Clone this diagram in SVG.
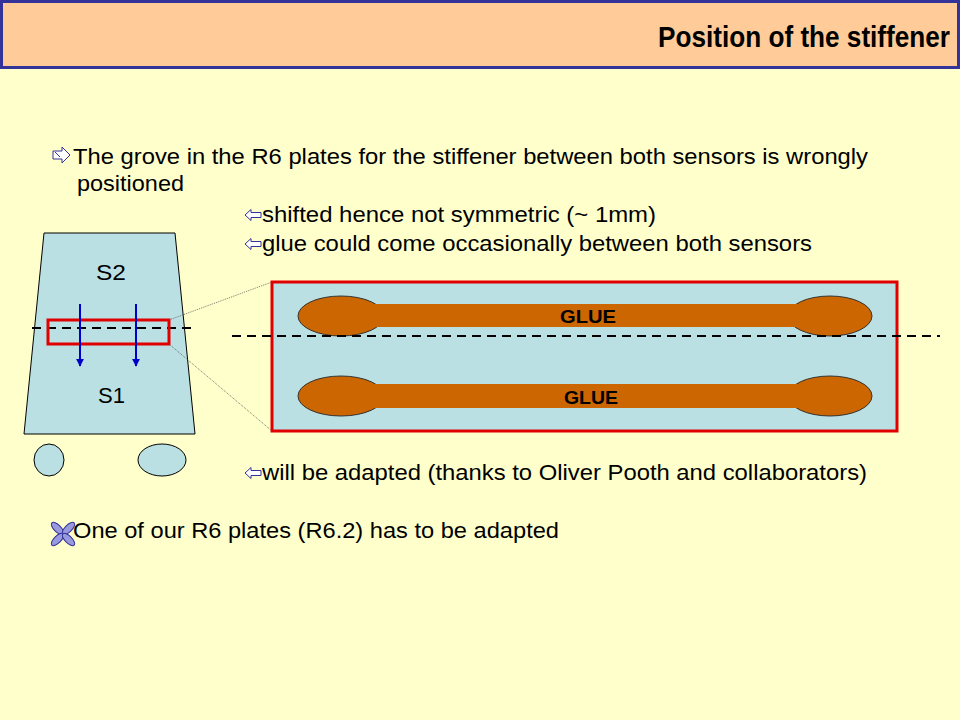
<svg xmlns="http://www.w3.org/2000/svg" width="960" height="720" viewBox="0 0 960 720">
<style>
.t{font-family:"Liberation Sans",Arial,sans-serif;font-size:22px;fill:#000}
.g{font-family:"Liberation Sans",Arial,sans-serif;font-size:19px;font-weight:bold;fill:#000;text-anchor:middle}
.plate{fill:#BBE0E3;stroke:#000;stroke-width:1}
.glue{fill:#CC6600;stroke:#333;stroke-width:1}
.bar{fill:#CC6600}
.dash{stroke:#000;stroke-width:2;stroke-dasharray:9 6;fill:none}
.bul{fill:#fff;stroke:#333399;stroke-width:1}
.blue{stroke:#0000CC;stroke-width:2;fill:none}
.dot{stroke:#555;stroke-width:0.8;stroke-dasharray:1 1;fill:none}
</style>
<defs>
<marker id="ah" viewBox="0 0 10 10" refX="9" refY="5" markerWidth="4" markerHeight="4" orient="auto"><path d="M0,0 L10,5 L0,10 Z" fill="#0000CC"/></marker>
<path id="la" d="M0,0 L6,-5.5 L6,-2.5 L16,-2.5 L16,2.5 L6,2.5 L6,5.5 Z"/>
</defs>
<rect width="960" height="720" fill="#FFFFCC"/>
<g id="header">
<rect x="1.5" y="1.5" width="957" height="66" fill="#FFCC99" stroke="#333399" stroke-width="3"/>
<text transform="translate(950,47) scale(0.872,1)" x="0" y="0" text-anchor="end" style="font-family:'Liberation Sans',Arial,sans-serif;font-size:30px;font-weight:bold">Position of the stiffener</text>
</g>
<g id="texts">
<path class="bul" d="M53,151 L62,151 L62,147 L70,155 L62,163 L62,159 L53,159 Z"/>
<path d="M55,152 L60,157" stroke="#333399" stroke-width="1"/>
<text class="t" x="73" y="164" textLength="795" lengthAdjust="spacingAndGlyphs">The grove in the R6 plates for the stiffener between both sensors is wrongly</text>
<text class="t" x="77" y="191" textLength="107" lengthAdjust="spacingAndGlyphs">positioned</text>
<use href="#la" class="bul" x="245" y="215"/>
<text class="t" x="262" y="222" textLength="394" lengthAdjust="spacingAndGlyphs">shifted hence not symmetric (~ 1mm)</text>
<use href="#la" class="bul" x="245" y="244"/>
<text class="t" x="262" y="251" textLength="550" lengthAdjust="spacingAndGlyphs">glue could come occasionally between both sensors</text>
<use href="#la" class="bul" x="245" y="473"/>
<text class="t" x="262" y="480" textLength="605" lengthAdjust="spacingAndGlyphs">will be adapted (thanks to Oliver Pooth and collaborators)</text>
<g transform="translate(63,534)" fill="#9999DD" stroke="#333399" stroke-width="1">
<ellipse cx="-5.5" cy="-5.5" rx="8" ry="3.5" transform="rotate(45 -5.5 -5.5)"/>
<ellipse cx="5.5" cy="-5.5" rx="8" ry="3.5" transform="rotate(-45 5.5 -5.5)"/>
<ellipse cx="-5.5" cy="5.5" rx="8" ry="3.5" transform="rotate(-45 -5.5 5.5)"/>
<ellipse cx="5.5" cy="5.5" rx="8" ry="3.5" transform="rotate(45 5.5 5.5)"/>
</g>
<text class="t" x="73" y="538" textLength="486" lengthAdjust="spacingAndGlyphs">One of our R6 plates (R6.2) has to be adapted</text>
</g>
<g id="module">
<path class="plate" d="M44,233 L175,233 L195,434 L24,434 Z"/>
<text class="t" x="96" y="280" textLength="30" lengthAdjust="spacingAndGlyphs">S2</text>
<text class="t" x="98" y="403" textLength="27" lengthAdjust="spacingAndGlyphs">S1</text>
<ellipse class="plate" cx="49" cy="460" rx="15" ry="16"/>
<ellipse class="plate" cx="162" cy="460" rx="24" ry="16"/>
</g>
<g id="detail">
<rect x="272" y="282" width="625" height="149" fill="#BBE0E3" stroke="#E00000" stroke-width="3"/>
<g id="glue-top">
<ellipse class="glue" cx="341" cy="316" rx="43" ry="20"/>
<ellipse class="glue" cx="830" cy="316" rx="42" ry="20"/>
<rect class="bar" x="365" y="304" width="440" height="23"/>
<text class="g" x="588" y="323" textLength="56" lengthAdjust="spacingAndGlyphs">GLUE</text>
</g>
<g id="glue-bottom">
<ellipse class="glue" cx="341" cy="396" rx="43" ry="20"/>
<ellipse class="glue" cx="830" cy="396" rx="42" ry="20"/>
<rect class="bar" x="365" y="384" width="440" height="24"/>
<text class="g" x="591" y="404" textLength="54" lengthAdjust="spacingAndGlyphs">GLUE</text>
</g>
</g>
<g id="connectors">
<line class="dash" x1="32" y1="328" x2="192" y2="328"/>
<line class="dash" x1="232" y1="336" x2="940" y2="336"/>
<rect x="48" y="320" width="121" height="24" fill="none" stroke="#E00000" stroke-width="3"/>
<line class="blue" x1="80" y1="304" x2="80" y2="366" marker-end="url(#ah)"/>
<line class="blue" x1="136" y1="304" x2="136" y2="366" marker-end="url(#ah)"/>
<line class="dot" x1="169" y1="320" x2="272" y2="282"/>
<line class="dot" x1="169" y1="344" x2="272" y2="431"/>
</g>
</svg>
